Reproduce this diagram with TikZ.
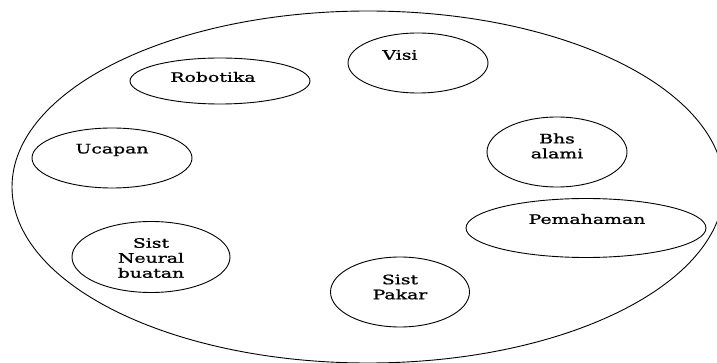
\documentclass[tikz,border=0pt]{standalone}
\usepackage{fontspec}
\newfontfamily\slab[FakeStretch=1.45,FakeBold=1.2]{DejaVu Serif}
\usetikzlibrary{shapes.geometric}
\tikzset{
 bubble/.style={draw, ellipse, line width=0.9pt, inner sep=0pt},
 lbl/.style={font=\slab\fontsize{13}{15}\selectfont, align=center, inner sep=0pt},
}
\begin{document}
\begin{tikzpicture}[x=1pt,y=-1pt]
\useasboundingbox (0,0) rectangle (717,363);
\node[bubble, minimum width=712pt, minimum height=352pt] (outer) at (368,187) {};
\node[bubble, minimum width=180pt, minimum height=46pt] (robotika) at (220,81) {};
\node[lbl] (trobotika) at (213,77) {Robotika};
\node[bubble, minimum width=140pt, minimum height=60pt] (visi) at (418,63) {};
\node[lbl] (tvisi) at (400,55) {Visi};
\node[bubble, minimum width=140pt, minimum height=70pt] (bhs) at (557,152) {};
\node[lbl] (tbhs) at (557,146) {Bhs\\alami};
\node[bubble, minimum width=160pt, minimum height=60pt] (ucapan) at (112,158) {};
\node[lbl] (tucapan) at (112,150) {Ucapan};
\node[bubble, minimum width=240pt, minimum height=59pt] (pemahaman) at (586,228) {};
\node[lbl] (tpemahaman) at (587,219) {Pemahaman};
\node[bubble, minimum width=158pt, minimum height=71pt] (neural) at (151,257) {};
\node[lbl] (tneural) at (151,258) {Sist\\Neural\\buatan};
\node[bubble, minimum width=139pt, minimum height=70pt] (pakar) at (400,292) {};
\node[lbl] (tpakar) at (400,287) {Sist\\Pakar};
\end{tikzpicture}
\end{document}
